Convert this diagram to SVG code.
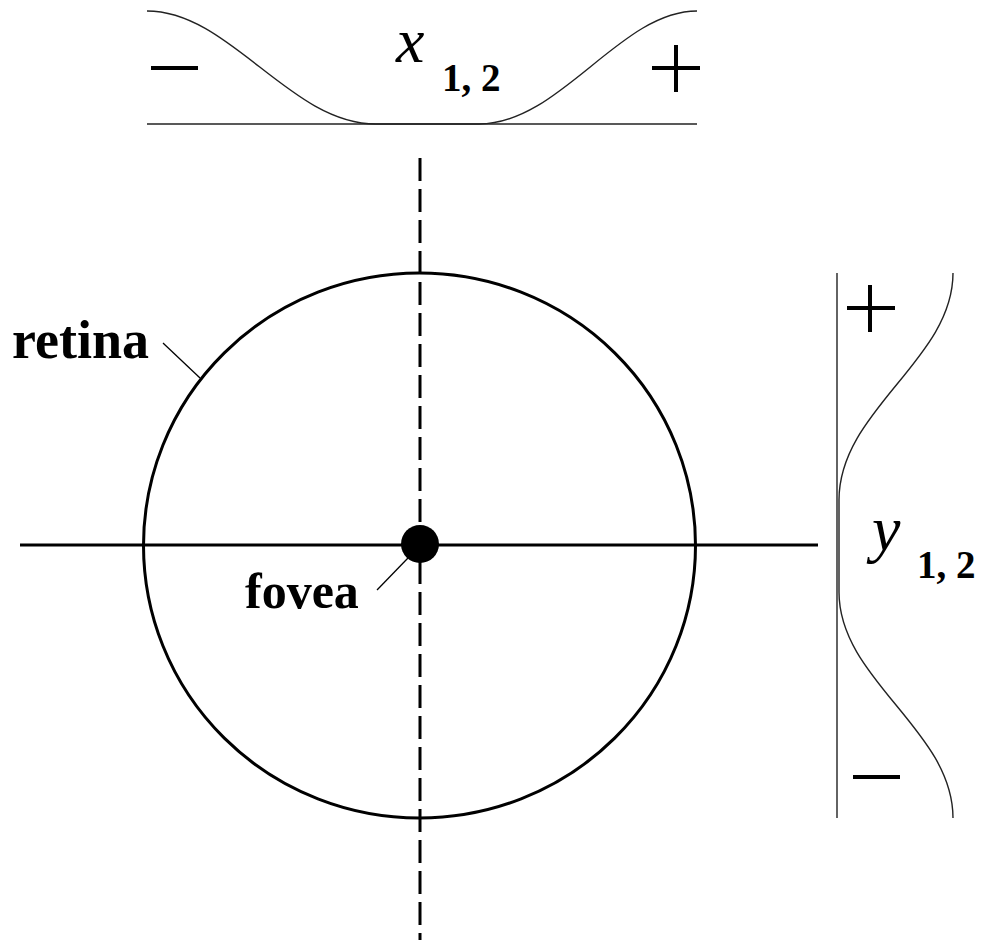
<svg xmlns="http://www.w3.org/2000/svg" width="983" height="943" viewBox="0 0 983 943">
<style>
.bold{font-family:"Liberation Serif","Times New Roman",serif;font-weight:bold;fill:#000}
.ital{font-family:"Liberation Serif","Times New Roman",serif;font-style:italic;fill:#000}
.thin{fill:none;stroke:#222;stroke-width:1.4}
.sign{stroke:#000;stroke-width:4;fill:none}
.axis{stroke:#000;stroke-width:3;fill:none}
.lead{stroke:#000;stroke-width:1.3;fill:none}
</style>
<rect width="983" height="943" fill="#fff"/>
<g id="axes">
<line class="axis" x1="20" y1="545" x2="818" y2="545"/>
<line class="axis" x1="420" y1="158" x2="420" y2="940" stroke-dasharray="23 8"/>
</g>
<g id="retina">
<ellipse cx="419.5" cy="545.5" rx="276" ry="272.5" fill="none" stroke="#000" stroke-width="3"/>
<text class="bold" x="12" y="358" font-size="54">retina</text>
</g>
<g id="fovea">
<circle cx="420" cy="544" r="19" fill="#000"/>
<text class="bold" x="245" y="608" font-size="50">fovea</text>
</g>
<g id="x-profile">
<line class="thin" x1="147" y1="124" x2="697" y2="124"/>
<path class="thin" d="M147,11 C230,11 290,124 376,124 L479,124 C560,124 620,11 697,11"/>
<line class="sign" x1="151" y1="68" x2="198" y2="68"/>
<line class="sign" x1="652" y1="68" x2="700" y2="68"/>
<line class="sign" x1="676" y1="45" x2="676" y2="92"/>
<text class="ital" x="396" y="62" font-size="64">x</text>
<text class="bold" x="442" y="91" font-size="39">1, 2</text>
</g>
<g id="y-profile">
<line class="thin" x1="837" y1="273" x2="837" y2="818"/>
<path class="thin" d="M953,273 C953,360 839,410 839,500 L839,592 C839,680 953,730 953,818"/>
<line class="sign" x1="847" y1="308" x2="895" y2="308"/>
<line class="sign" x1="870" y1="285" x2="870" y2="332"/>
<line class="sign" x1="853" y1="777" x2="900" y2="777"/>
<text class="ital" x="872" y="550" font-size="64">y</text>
<text class="bold" x="917" y="578" font-size="39">1, 2</text>
</g>
<g id="connectors">
<line class="lead" x1="163" y1="343" x2="200" y2="378"/>
<line class="lead" x1="377" y1="590" x2="408" y2="558"/>
</g>
</svg>
